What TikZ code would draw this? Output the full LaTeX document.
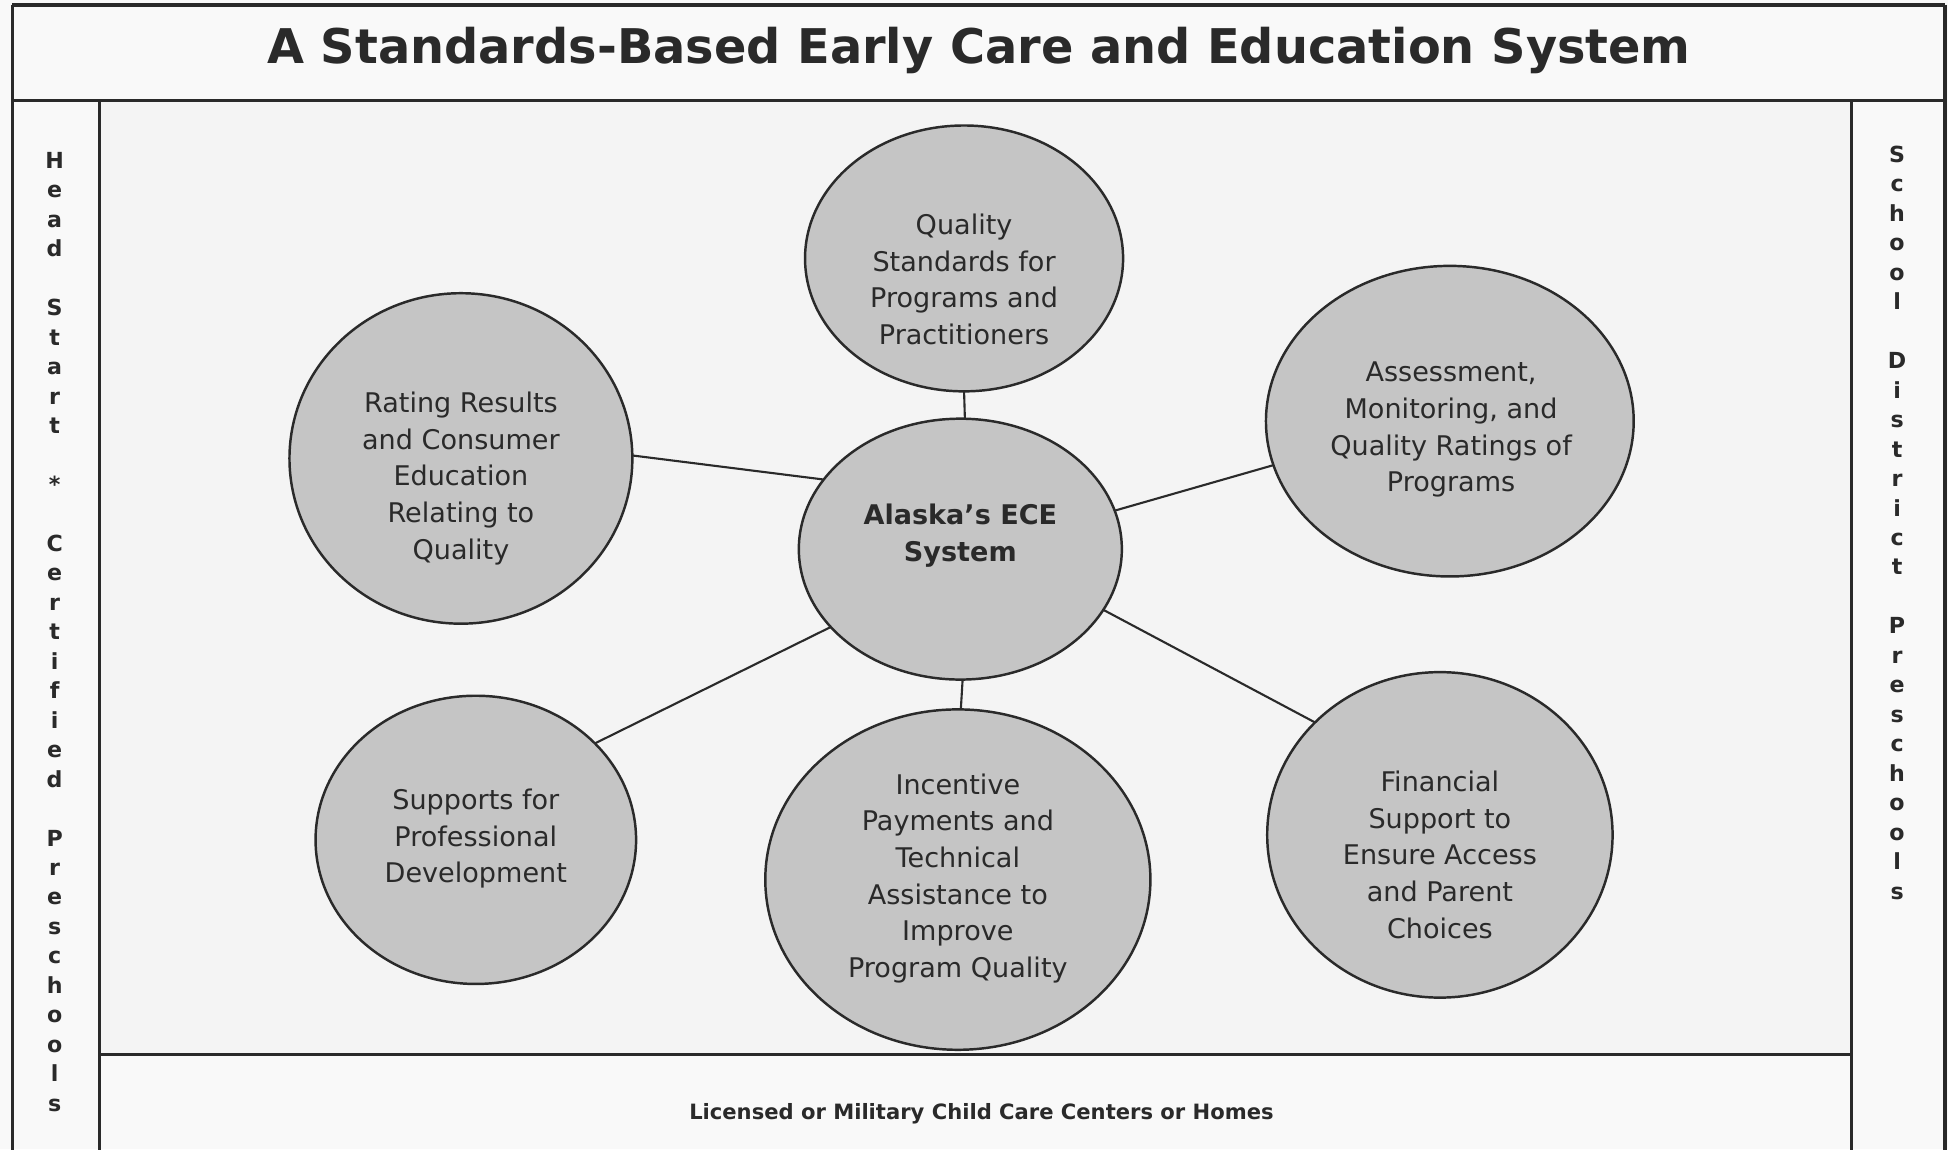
\documentclass[tikz,border=0pt]{standalone}
\usepackage{fontspec}
\setmainfont{DejaVu Sans}
\usetikzlibrary{shapes.geometric}
\definecolor{bubblegray}{RGB}{197,197,197}
\definecolor{ink}{RGB}{42,42,42}
\definecolor{paper}{RGB}{249,249,249}
\definecolor{panel}{RGB}{244,244,244}
\begin{document}
\begin{tikzpicture}[x=0.012423cm, y=-0.012423cm,
  frameline/.style={draw=ink, line width=0.9pt},
  bubble/.style={ellipse, draw=ink, line width=0.7pt, fill=bubblegray,
                 inner sep=0pt, outer sep=0pt},
  esize/.style 2 args={minimum width=#1*0.012423cm, minimum height=#2*0.012423cm},
  bubbletext/.style={text=ink, align=center, inner sep=0pt,
                     font=\fontsize{7.7}{10.43}\selectfont},
  link/.style={draw=ink, line width=0.6pt},
  sidetext/.style={text=ink, align=center, anchor=north, inner sep=0pt,
                   font=\fontsize{6.3}{8.38}\selectfont\bfseries}]
\useasboundingbox[fill=paper] (0,0) rectangle (1568,925);
\fill[panel] (80,81) rectangle (1490,849);

% frame: title band, side columns, bottom band
\draw[frameline] (10,4) -- (1565.5,4);
\draw[frameline] (10,4) -- (10,935);
\draw[frameline] (1565.5,4) -- (1565.5,935);
\draw[frameline] (10,81) -- (1565.5,81);
\draw[frameline] (80,81) -- (80,935);
\draw[frameline] (1490,81) -- (1490,935);
\draw[frameline] (80,849) -- (1490,849);

\node[anchor=base, text=ink, inner sep=0pt, font=\fontsize{13.6}{16}\selectfont\bfseries]
  (title) at (788,51) {A Standards-Based Early Care and Education System};

\node[sidetext] (leftcol) at (44,122)
  {H\\e\\a\\d\\~\\S\\t\\a\\r\\t\\~\\*\\~\\C\\e\\r\\t\\i\\f\\i\\e\\d\\~\\P\\r\\e\\s\\c\\h\\o\\o\\l\\s};
\node[sidetext] (rightcol) at (1527,117)
  {S\\c\\h\\o\\o\\l\\~\\D\\i\\s\\t\\r\\i\\c\\t\\~\\P\\r\\e\\s\\c\\h\\o\\o\\l\\s};

\node[anchor=base, text=ink, inner sep=0pt, font=\fontsize{6}{7}\selectfont\bfseries]
  (bottomtext) at (790,901) {Licensed or Military Child Care Centers or Homes};

% the hub and its six components
\node[bubble, esize={260}{210}] (sys)    at (773,442)  {};
\node[bubble, esize={256}{214}] (qual)   at (776,208)  {};
\node[bubble, esize={276}{266}] (rate)   at (371,369)  {};
\node[bubble, esize={296}{250}] (assess) at (1167,339) {};
\node[bubble, esize={258}{232}] (supp)   at (383,676)  {};
\node[bubble, esize={310}{274}] (inc)    at (771,708)  {};
\node[bubble, esize={278}{262}] (fin)    at (1159,672) {};

\node[bubbletext, font=\fontsize{7.7}{10.43}\selectfont\bfseries] (systext) at (773,431)
  {Alaska’s ECE\\System};
\node[bubbletext] (qualtext) at (776,225)
  {Quality\\Standards for\\Programs and\\Practitioners};
\node[bubbletext] (ratetext) at (371,385)
  {Rating Results\\and Consumer\\Education\\Relating to\\Quality};
\node[bubbletext] (assesstext) at (1168,346)
  {Assessment,\\Monitoring, and\\Quality Ratings of\\Programs};
\node[bubbletext] (supptext) at (383,675)
  {Supports for\\Professional\\Development};
\node[bubbletext] (inctext) at (771,707)
  {Incentive\\Payments and\\Technical\\Assistance to\\Improve\\Program Quality};
\node[bubbletext] (fintext) at (1159,688)
  {Financial\\Support to\\Ensure Access\\and Parent\\Choices};

% spokes
\draw[link] (qual.south) -- (sys.88);
\draw[link] (rate.1) -- (sys.153);
\draw[link] (assess.194) -- (sys.14);
\draw[link] (supp.39) -- (sys.211);
\draw[link] (fin.138) -- (sys.-23);
\draw[link] (sys.-89) -- (inc.89);
\end{tikzpicture}
\end{document}
